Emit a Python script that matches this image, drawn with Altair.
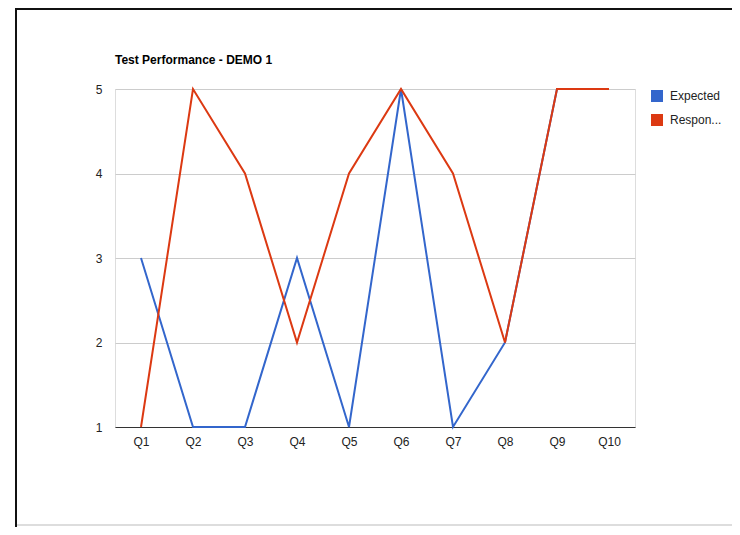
import altair as alt
import pandas as pd

questions = ["Q1", "Q2", "Q3", "Q4", "Q5", "Q6", "Q7", "Q8", "Q9", "Q10"]
expected = [3, 1, 1, 3, 1, 5, 1, 2, 5, 5]
response = [1, 5, 4, 2, 4, 5, 4, 2, 5, 5]
series = ["Expected", "Response"]
colors = ["#3366CC", "#DC3912"]

rows = []
for q, e, r in zip(questions, expected, response):
    rows.append({"q": q, "series": "Expected", "value": e})
    rows.append({"q": q, "series": "Response", "value": r})
df = pd.DataFrame(rows)

FONT = "Liberation Sans"

x_enc = alt.X("q:N", sort=questions, title=None,
              scale=alt.Scale(paddingOuter=0.5, paddingInner=0),
              axis=alt.Axis(labelAngle=0, ticks=False, grid=False, domain=True,
                            domainColor="#333333", domainWidth=1.2,
                            labelPadding=9, labelFontSize=12, labelColor="#222222",
                            labelFont=FONT))
y_enc = alt.Y("value:Q", title=None,
              scale=alt.Scale(domain=[1, 5], nice=False, zero=False),
              axis=alt.Axis(values=[1, 2, 3, 4, 5], ticks=False, domain=False,
                            gridColor="#cccccc", gridWidth=1, labelPadding=13,
                            labelFontSize=12, labelColor="#222222", labelFont=FONT))
color_enc = alt.Color("series:N", title=None,
                      scale=alt.Scale(domain=series, range=colors),
                      legend=alt.Legend(orient="none", legendX=536, legendY=1,
                                        symbolType="square", symbolSize=36,
                                        symbolStrokeWidth=6, symbolOpacity=1,
                                        labelFontSize=12, labelFont=FONT,
                                        labelColor="#222222", labelOffset=7,
                                        rowPadding=-6,
                                        labelExpr="datum.label == 'Response' ? 'Respon...' : datum.label"))

base = alt.Chart(df)
line_exp = base.transform_filter(alt.datum.series == "Expected").mark_line(strokeWidth=2).encode(
    x=x_enc, y=y_enc, color=color_enc)
line_resp = base.transform_filter(alt.datum.series == "Response").mark_line(strokeWidth=2).encode(
    x=x_enc, y=y_enc, color=color_enc)

frame_src = alt.Data(values=[{"k": 1}])
left_border = alt.Chart(frame_src).mark_rule(color="#111111", strokeWidth=2).encode(
    x=alt.value(-99), y=alt.value(-81), y2=alt.value(438))
top_border = alt.Chart(frame_src).mark_rule(color="#111111", strokeWidth=2).encode(
    x=alt.value(-100), x2=alt.value(620), y=alt.value(-80))
bottom_line = alt.Chart(frame_src).mark_rule(color="#dddddd", strokeWidth=2).encode(
    x=alt.value(-98), x2=alt.value(620), y=alt.value(436))

chart = alt.layer(left_border, top_border, bottom_line, line_exp, line_resp).properties(
    width=520, height=338,
    title=alt.Title("Test Performance - DEMO 1", anchor="start", frame="group",
                    fontSize=12, font=FONT, fontWeight="bold", color="#000000",
                    offset=0, dy=60),
    autosize=alt.AutoSizeParams(type="none"),
    padding={"left": 107, "top": 81, "right": 97, "bottom": 100},
).configure_view(stroke=None).configure(background="white")

chart.save("out.html", embed_options={"renderer": "svg", "actions": False})
